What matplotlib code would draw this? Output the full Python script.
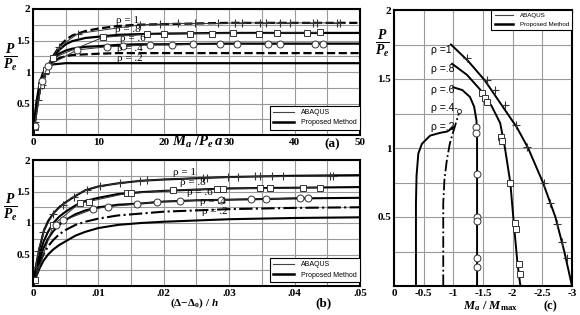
import numpy as np
import matplotlib
matplotlib.use('Agg')
import matplotlib.pyplot as plt
from matplotlib.lines import Line2D
from matplotlib.ticker import MultipleLocator

plt.rcParams['font.family'] = ['Liberation Serif', 'DejaVu Serif']
plt.rcParams['font.weight'] = 'bold'
plt.rcParams['mathtext.fontset'] = 'custom'
plt.rcParams['mathtext.it'] = 'Liberation Serif:italic:bold'
plt.rcParams['mathtext.rm'] = 'Liberation Serif:bold'
plt.rcParams['mathtext.bf'] = 'Liberation Serif:bold'

# ---- panel (a): P/Pe vs Ma/(Pe a) ----
a_x = [0, 0.5, 1, 1.5, 2, 2.5, 3, 4, 5, 6, 8, 10, 13, 16, 20, 30, 50]
a_r10 = [0, 0.38, 0.68, 0.88, 1.02, 1.13, 1.24, 1.40, 1.51, 1.58, 1.65, 1.69, 1.73, 1.75, 1.76, 1.78, 1.78]
a_r08 = [0, 0.40, 0.70, 0.90, 1.03, 1.13, 1.22, 1.35, 1.44, 1.49, 1.54, 1.56, 1.59, 1.60, 1.61, 1.62, 1.62]
a_r06 = [0, 0.42, 0.73, 0.92, 1.04, 1.13, 1.20, 1.29, 1.34, 1.37, 1.40, 1.41, 1.43, 1.44, 1.44, 1.45, 1.45]
a_r04 = [0, 0.45, 0.77, 0.95, 1.05, 1.12, 1.17, 1.22, 1.25, 1.27, 1.28, 1.29, 1.30, 1.30, 1.30, 1.30, 1.30]
a_r02 = [0, 0.50, 0.82, 0.98, 1.06, 1.10, 1.12, 1.13, 1.14, 1.14, 1.14, 1.14, 1.14, 1.14, 1.14, 1.14, 1.14]

a_ab10_x = [0.3, 0.8, 1.3, 1.8, 2.5, 4.0, 6.9, 16.4, 19.4, 22.1, 24.8, 28.3, 30.9, 32.0, 34.7, 35.6, 37.8, 39.3, 42.8, 43.4, 46.5, 46.9]
a_ab10_y = [0.20, 0.55, 0.80, 0.97, 1.13, 1.40, 1.61, 1.75, 1.76, 1.77, 1.77, 1.77, 1.78, 1.78, 1.78, 1.78, 1.78, 1.78, 1.78, 1.78, 1.78, 1.78]
a_ab08_x = [0.3, 1.2, 2.0, 3.0, 10.7, 17.4, 20.0, 24.0, 27.4, 30.6, 34.6, 37.3, 41.9, 43.9]
a_ab08_y = [0.12, 0.80, 1.03, 1.22, 1.55, 1.60, 1.60, 1.61, 1.61, 1.62, 1.61, 1.62, 1.62, 1.63]
a_ab06_x = [0.3, 1.3, 2.3, 6.7, 11.3, 13.8, 17.9, 21.2, 24.5, 28.6, 31.2, 35.9, 37.8, 43.1, 44.3]
a_ab06_y = [0.15, 0.85, 1.10, 1.35, 1.40, 1.41, 1.43, 1.43, 1.44, 1.44, 1.44, 1.44, 1.44, 1.44, 1.45]

# ---- panel (b): P/Pe vs (D-Do)/h ----
b_x = [0, 0.0005, 0.001, 0.0016, 0.0023, 0.0031, 0.004, 0.005, 0.0065, 0.008, 0.01, 0.013, 0.0165, 0.02, 0.025, 0.03, 0.04, 0.05]
b_r10 = [0, 0.35, 0.60, 0.86, 1.03, 1.15, 1.25, 1.33, 1.43, 1.52, 1.58, 1.63, 1.67, 1.69, 1.71, 1.73, 1.75, 1.76]
b_r08 = [0, 0.28, 0.50, 0.70, 0.86, 1.00, 1.10, 1.18, 1.28, 1.35, 1.40, 1.46, 1.49, 1.51, 1.53, 1.55, 1.56, 1.57]
b_r06 = [0, 0.23, 0.42, 0.60, 0.75, 0.87, 0.97, 1.05, 1.14, 1.20, 1.25, 1.29, 1.31, 1.34, 1.36, 1.37, 1.39, 1.40]
b_r04 = [0, 0.19, 0.35, 0.50, 0.63, 0.73, 0.82, 0.89, 0.97, 1.02, 1.07, 1.12, 1.15, 1.18, 1.20, 1.22, 1.24, 1.25]
b_r02 = [0, 0.15, 0.28, 0.40, 0.50, 0.58, 0.65, 0.71, 0.80, 0.86, 0.92, 0.97, 1.00, 1.02, 1.04, 1.06, 1.08, 1.09]

b_ab10_x = [0.0004, 0.0008, 0.0016, 0.0031, 0.0046, 0.0062, 0.0082, 0.0102, 0.0133, 0.0164, 0.0175, 0.026, 0.0266, 0.0298, 0.0313, 0.034, 0.0347, 0.0365, 0.0382, 0.0454, 0.0459]
b_ab10_y = [0.30, 0.55, 0.86, 1.15, 1.29, 1.42, 1.53, 1.59, 1.63, 1.67, 1.68, 1.72, 1.72, 1.73, 1.73, 1.74, 1.74, 1.74, 1.74, 1.75, 1.75]
b_ab08_x = [0.0003, 0.0031, 0.0072, 0.0085, 0.0143, 0.015, 0.0214, 0.0281, 0.029, 0.0347, 0.0362, 0.0413, 0.0439]
b_ab08_y = [0.10, 0.97, 1.32, 1.34, 1.47, 1.47, 1.52, 1.54, 1.54, 1.55, 1.55, 1.56, 1.56]
b_ab06_x = [0.0035, 0.0046, 0.0092, 0.0115, 0.0159, 0.019, 0.0225, 0.0288, 0.0334, 0.0356, 0.0408, 0.0421]
b_ab06_y = [0.97, 1.04, 1.22, 1.26, 1.30, 1.34, 1.35, 1.37, 1.38, 1.38, 1.40, 1.40]

# ---- panel (c): P/Pe vs Ma/Mmax ----
c_r10_m = [-0.96, -1.25, -1.53, -1.80, -2.07, -2.26, -2.51, -2.72, -2.87, -3.0]
c_r10_p = [1.75, 1.63, 1.49, 1.32, 1.15, 1.0, 0.75, 0.5, 0.25, 0.0]
c_r08_m = [-0.98, -1.23, -1.50, -1.65, -1.79, -1.87, -1.96, -2.02, -2.08, -2.13]
c_r08_p = [1.61, 1.53, 1.40, 1.30, 1.18, 1.0, 0.75, 0.45, 0.17, 0.0]
c_r06_m = [-1.0, -1.15, -1.28, -1.35, -1.39, -1.40, -1.40, -1.40]
c_r06_p = [1.44, 1.42, 1.37, 1.30, 1.20, 1.05, 0.5, 0.0]
c_r04_m = [-0.83, -0.83, -0.85, -0.89, -0.94, -1.0, -1.05, -1.1]
c_r04_p = [0, 0.6, 0.77, 0.91, 1.03, 1.12, 1.19, 1.26]
c_r02_m = [-0.37, -0.37, -0.38, -0.41, -0.47, -0.61, -0.78, -0.9, -1.0]
c_r02_p = [0, 0.6, 0.8, 0.96, 1.03, 1.09, 1.11, 1.12, 1.15]

c_ab10_m = [-1.23, -1.56, -1.70, -1.87, -2.06, -2.24, -2.52, -2.63, -2.74, -2.83, -2.91]
c_ab10_p = [1.65, 1.49, 1.42, 1.31, 1.17, 1.01, 0.75, 0.60, 0.45, 0.32, 0.20]
c_ab08_m = [-1.48, -1.53, -1.56, -1.80, -1.82, -1.96, -2.04, -2.05, -2.11, -2.12]
c_ab08_p = [1.40, 1.36, 1.33, 1.08, 1.05, 0.75, 0.46, 0.41, 0.16, 0.09]
c_ab06_m = [-1.39, -1.39, -1.40, -1.40, -1.40, -1.40, -1.40]
c_ab06_p = [1.15, 1.11, 0.81, 0.50, 0.47, 0.20, 0.14]
c_ab04_m = [-1.1]
c_ab04_p = [1.27]

rho_labels = ['\u03c1 = 1', '\u03c1 = .8', '\u03c1 = .6', '\u03c1 = .4', '\u03c1 = .2']
c_labels = ['\u03c1 =1', '\u03c1 =.8', '\u03c1 =.6', '\u03c1 =.4-', '\u03c1 =.2']

W, H = 580, 315
fig = plt.figure(figsize=(5.8, 3.15), dpi=100)


def rect(l, t, r, b):
    return [l / W, 1 - b / H, (r - l) / W, (b - t) / H]


def style(ax, xmin):
    ax.xaxis.set_minor_locator(MultipleLocator(xmin))
    ax.yaxis.set_minor_locator(MultipleLocator(0.25))
    ax.grid(True, which='both', color='#9a9a9a', lw=0.8)
    ax.set_axisbelow(True)
    ax.tick_params(which='both', length=0, pad=2, labelsize=8)
    for s in ax.spines.values():
        s.set_linewidth(1.5)


leg_handles = [Line2D([], [], color='#444444', lw=0.8),
               Line2D([], [], color='black', lw=1.8)]
leg_labels = ['ABAQUS', 'Proposed Method']


def add_legend(ax, loc, anchor, size):
    lg = ax.legend(leg_handles, leg_labels, loc=loc, bbox_to_anchor=anchor,
                   borderaxespad=0, fancybox=False, edgecolor='black', framealpha=1,
                   prop={'family': 'Liberation Sans', 'size': size, 'weight': 'normal'},
                   handlelength=3.0, handletextpad=1.0, labelspacing=0.5, borderpad=0.5)
    lg.get_frame().set_linewidth(0.8)


def yfrac(x, y):
    fig.text(x / W, 1 - y / H, r'$\frac{P}{P_e}$', fontsize=14, ha='center', va='center')


# (a)
ax1 = fig.add_axes(rect(33, 9, 360, 135))
for yy, ls in zip([a_r10, a_r08, a_r06, a_r04, a_r02], ['--', '-', '-', '--', '-']):
    ax1.plot(a_x, yy, color='black', lw=1.6, ls=ls)
ax1.plot(a_ab10_x, a_ab10_y, color='#333333', lw=0.7, marker='+', ms=6, mew=0.8)
ax1.plot(a_ab08_x, a_ab08_y, color='#333333', lw=0.7, marker='s', ms=5, mfc='white', mec='#333333', mew=0.7)
ax1.plot(a_ab06_x, a_ab06_y, color='#333333', lw=0.7, marker='o', ms=5, mfc='white', mec='#333333', mew=0.7)
for lab, (xx, yy) in zip(rho_labels, [(12.7, 1.82), (12.5, 1.68), (13.3, 1.53), (12.8, 1.37), (12.8, 1.22)]):
    ax1.text(xx, yy, lab, fontsize=8, weight='normal', va='center')
style(ax1, 5)
ax1.set_xlim(0, 50)
ax1.set_ylim(0, 2)
ax1.set_xticks([0, 10, 20, 30, 40, 50])
ax1.set_yticks([0.5, 1, 1.5, 2])
ax1.set_yticklabels(['0.5', '1', '1.5', '2'])
add_legend(ax1, 'lower right', (1.0, 0.04), 5)

# (b)
ax2 = fig.add_axes(rect(33, 160, 360, 286))
for yy, ls in zip([b_r10, b_r08, b_r06, b_r04, b_r02], ['-', '-', '-', '-.', '-']):
    ax2.plot(b_x, yy, color='black', lw=1.5, ls=ls)
ax2.plot(b_ab10_x, b_ab10_y, color='#333333', lw=0.7, marker='+', ms=6, mew=0.8)
ax2.plot(b_ab08_x, b_ab08_y, color='#333333', lw=0.7, marker='s', ms=5, mfc='white', mec='#333333', mew=0.7)
ax2.plot(b_ab06_x, b_ab06_y, color='#333333', lw=0.7, marker='o', ms=5, mfc='white', mec='#333333', mew=0.7)
for lab, (xx, yy) in zip(rho_labels, [(0.0214, 1.80), (0.0225, 1.64), (0.0235, 1.48), (0.0255, 1.34), (0.0258, 1.18)]):
    ax2.text(xx, yy, lab, fontsize=8, weight='normal', va='center')
style(ax2, 0.005)
ax2.set_xlim(0, 0.05)
ax2.set_ylim(0, 2)
ax2.set_xticks([0, 0.01, 0.02, 0.03, 0.04, 0.05])
ax2.set_xticklabels(['0', '.01', '.02', '.03', '.04', '.05'])
ax2.set_yticks([0.5, 1, 1.5, 2])
ax2.set_yticklabels(['0.5', '1', '1.5', '2'])
add_legend(ax2, 'lower right', (1.0, 0.03), 5)

# (c)
ax3 = fig.add_axes(rect(394, 10, 572, 286))
ax3.plot(c_r10_m, c_r10_p, color='black', lw=1.4)
ax3.plot(c_r08_m, c_r08_p, color='black', lw=1.4)
ax3.plot(c_r06_m, c_r06_p, color='black', lw=1.4)
ax3.plot(c_r04_m, c_r04_p, color='black', lw=1.3, ls='-.')
ax3.plot(c_r02_m, c_r02_p, color='black', lw=1.4)
ax3.plot(c_ab10_m, c_ab10_p, color='#333333', lw=0, marker='+', ms=6, mew=0.8)
ax3.plot(c_ab08_m, c_ab08_p, color='#333333', lw=0, marker='s', ms=5, mfc='white', mec='#333333', mew=0.7)
ax3.plot(c_ab06_m, c_ab06_p, color='#333333', lw=0, marker='o', ms=5, mfc='white', mec='#333333', mew=0.7)
ax3.plot(c_ab04_m, c_ab04_p, color='#333333', lw=0, marker='o', ms=3, mfc='white', mec='#333333', mew=0.7)
for lab, yy in zip(c_labels, [1.71, 1.57, 1.42, 1.29, 1.15]):
    ax3.text(-0.63, yy, lab, fontsize=7.5, family=['Liberation Sans', 'DejaVu Sans'], weight='normal', va='center')
style(ax3, 0.5)
ax3.set_xlim(0, -3)
ax3.set_ylim(0, 2)
ax3.set_xticks([0, -0.5, -1, -1.5, -2, -2.5, -3])
ax3.set_xticklabels(['0', '-0.5', '-1', '-1.5', '-2', '-2.5', '-3'])
ax3.set_yticks([0.5, 1, 1.5, 2])
ax3.set_yticklabels(['0.5', '1', '1.5', '2'])
add_legend(ax3, 'upper right', (1.0, 1.0), 4.5)

# axis titles and panel tags
yfrac(10, 57)
yfrac(10, 207)
yfrac(382, 43)
fig.text(172 / W, 1 - 142 / H, r'$M_a\ /P_e\,a$', fontsize=10.5, va='center')
fig.text(332 / W, 1 - 144 / H, '(a)', fontsize=9.5, ha='center', va='center')
fig.text(170 / W, 1 - 303 / H, r'$\mathrm{(\Delta\!-\!\Delta_o)\ /\ }h$', fontsize=8, va='center')
fig.text(324 / W, 1 - 303 / H, '(b)', fontsize=9.5, ha='center', va='center')
fig.text(463 / W, 1 - 306 / H, r'$M_a\ /\ M_{\mathrm{max}}$', fontsize=9, va='center')
fig.text(550 / W, 1 - 306 / H, '(c)', fontsize=9, ha='center', va='center')

fig.savefig('out.png', dpi=100)
